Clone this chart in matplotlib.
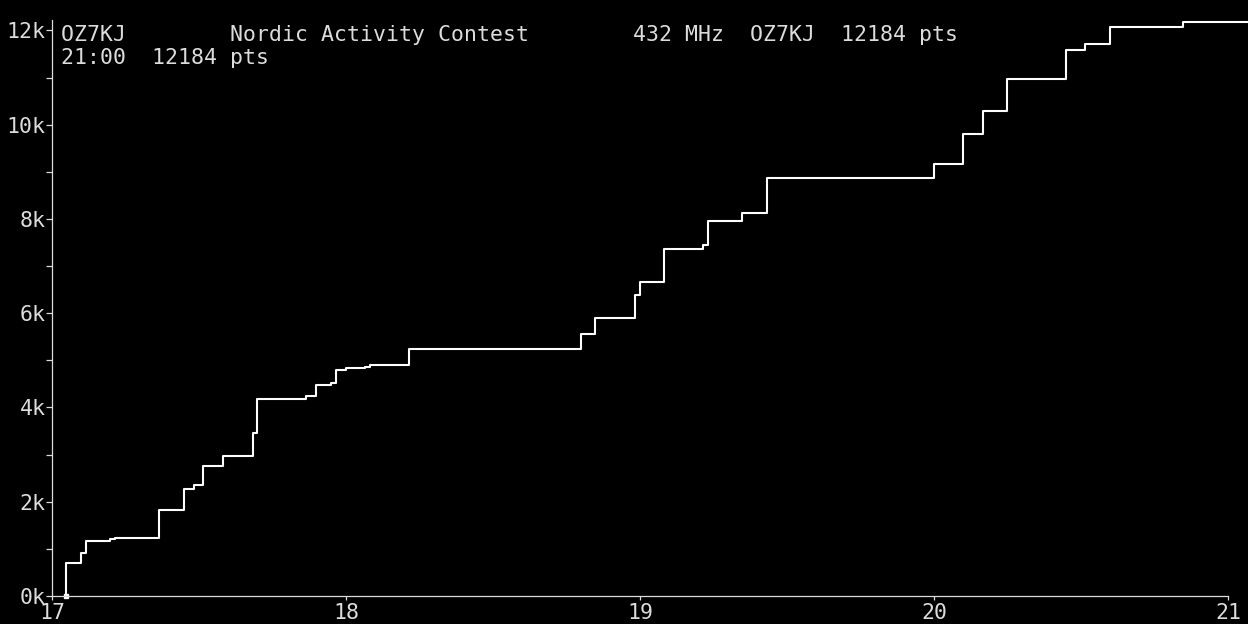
import numpy as np
import matplotlib.pyplot as plt

# contest score (points) after each step, time in decimal hours (UTC)
times = [17.047, 17.098, 17.115, 17.197, 17.214, 17.364, 17.449, 17.483,
         17.513, 17.581, 17.681, 17.697, 17.864, 17.898, 17.949, 17.966,
         18.000, 18.064, 18.081, 18.214, 18.799, 18.847, 18.983, 19.000,
         19.082, 19.214, 19.231, 19.347, 19.432, 20.000, 20.099, 20.167,
         20.248, 20.449, 20.514, 20.599, 20.847]
points = [694, 906, 1161, 1203, 1224, 1818, 2264, 2349,
          2752, 2964, 3452, 4174, 4237, 4471, 4513, 4789,
          4831, 4853, 4895, 5234, 5553, 5892, 6380, 6656,
          7356, 7441, 7950, 8120, 8863, 9160, 9803, 10284,
          10963, 11579, 11706, 12067, 12184]
t_end = 21.067

hour_ticks = [17, 18, 19, 20, 21]
k_ticks = [0, 2000, 4000, 6000, 8000, 10000, 12000]
k_labels = ['0k', '2k', '4k', '6k', '8k', '10k', '12k']

header1 = 'OZ7KJ        Nordic Activity Contest        432 MHz  OZ7KJ  12184 pts'
header2 = '21:00  12184 pts'

fg = '#dcdcdc'
plt.rcParams['font.family'] = 'DejaVu Sans Mono'
plt.rcParams['font.size'] = 15.5

fig = plt.figure(figsize=(12.48, 6.24), dpi=100, facecolor='black')
ax = fig.add_axes([52.4 / 1248, 28 / 624, 1195.6 / 1248, 576 / 624])
ax.set_facecolor('black')

xs = [times[0]] + times + [t_end]
ys = [0] + points + [points[-1]]
ax.step(xs, ys, where='post', color='white', lw=1.5, clip_on=False)
ax.plot([times[0]], [0], marker='s', ms=3, color='white', clip_on=False)

ax.set_xlim(17, t_end)
ax.set_ylim(0, 12221)

for s in ['top', 'right']:
    ax.spines[s].set_visible(False)
for s in ['left', 'bottom']:
    ax.spines[s].set_color(fg)
    ax.spines[s].set_linewidth(0.9)
ax.spines['bottom'].set_bounds(17, 21)

ax.set_xticks(hour_ticks)
ax.set_xticklabels([str(h) for h in hour_ticks])
ax.set_yticks(k_ticks)
ax.set_yticklabels(k_labels)
ax.set_yticks(np.arange(1000, 12000, 2000), minor=True)
ax.tick_params(axis='x', colors=fg, length=3, width=0.9, pad=2)
ax.tick_params(axis='y', which='both', colors=fg, length=4, width=0.9, pad=1)

fig.text(61 / 1248, 1 - 41 / 624, header1, color=fg, va='baseline', ha='left')
fig.text(61 / 1248, 1 - 64 / 624, header2, color=fg, va='baseline', ha='left')

fig.savefig('out.png', dpi=100, facecolor='black')
